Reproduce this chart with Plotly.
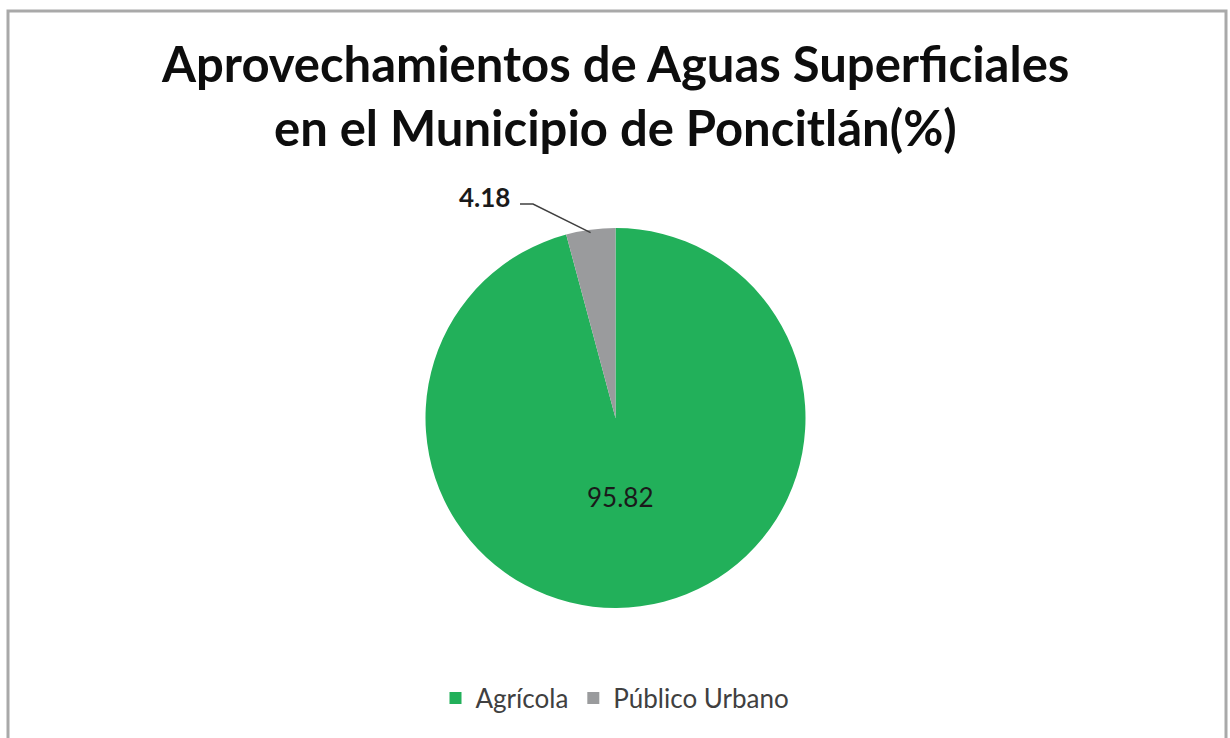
import math
import plotly.graph_objects as go

W, H = 1230, 738

categories = ["Agrícola", "Público Urbano"]
values = [95.82, 4.18]
colors = ["#22B05A", "#9A9B9D"]
title_lines = ["Aprovechamientos de Aguas Superficiales", "en el Municipio de Poncitlán(%)"]

# pie geometry in pixels
cx, cy, r = 615.5, 418, 190

def px(x):
    return x / W

def py(y):
    return 1 - y / H

fig = go.Figure()
fig.add_trace(go.Pie(
    labels=categories,
    values=values,
    sort=False,
    direction="clockwise",
    rotation=0,
    marker=dict(colors=colors, line=dict(width=0)),
    textinfo="none",
    domain=dict(x=[px(cx - r), px(cx + r)], y=[py(cy + r), py(cy - r)]),
    hoverinfo="label+value",
))

total = sum(values)
# inside label for the large slice, along its bisector
mid0 = values[0] / total * 360 / 2
a0 = math.radians(mid0)
ix = cx + 0.42 * r * math.sin(a0) - 6
iy = cy - 0.42 * r * math.cos(a0)
fig.add_annotation(x=px(ix), y=py(iy), xref="paper", yref="paper",
                   text=f"{values[0]:.2f}", showarrow=False,
                   xanchor="center", yanchor="middle",
                   font=dict(family="Lato", size=26, color="#1a1a1a"))

# outside label for the small slice with leader line
mid1 = values[0] / total * 360 + values[1] / total * 360 / 2
a1 = math.radians(mid1)
tipx = cx + r * math.sin(a1)
tipy = cy - r * math.cos(a1) + 3
lx, ly = 484, 197
fig.add_shape(type="path", xref="paper", yref="paper",
              path=f"M {px(lx+36)},{py(ly+7)} L {px(lx+49)},{py(ly+7)} L {px(tipx)},{py(tipy)}",
              line=dict(color="#404040", width=1.5))
fig.add_annotation(x=px(lx), y=py(ly), xref="paper", yref="paper",
                   text=f"<b>{values[1]:.2f}</b>", showarrow=False,
                   xanchor="center", yanchor="middle",
                   font=dict(family="Lato", size=26, color="#1a1a1a"))

# title (two centred lines)
for txt, yc in zip(title_lines, [63, 127]):
    fig.add_annotation(x=0.5, y=py(yc), xref="paper", yref="paper",
                       text=f"<b>{txt}</b>", showarrow=False,
                       xanchor="center", yanchor="middle",
                       font=dict(family="Lato", size=49, color="#0d0d0d"))

# chart border
fig.add_shape(type="rect", xref="paper", yref="paper",
              x0=px(8), x1=px(1226), y0=py(748), y1=py(11),
              line=dict(color="#A9A9A9", width=3))

fig.update_layout(
    width=W, height=H,
    margin=dict(l=0, r=0, t=0, b=0),
    paper_bgcolor="white",
    plot_bgcolor="white",
    showlegend=True,
    legend=dict(orientation="h", x=0.5, xanchor="center", y=py(698), yanchor="middle",
                font=dict(family="Lato", size=26, color="#404040"),
                itemwidth=30, traceorder="normal"),
)

fig.write_html("out.html")
